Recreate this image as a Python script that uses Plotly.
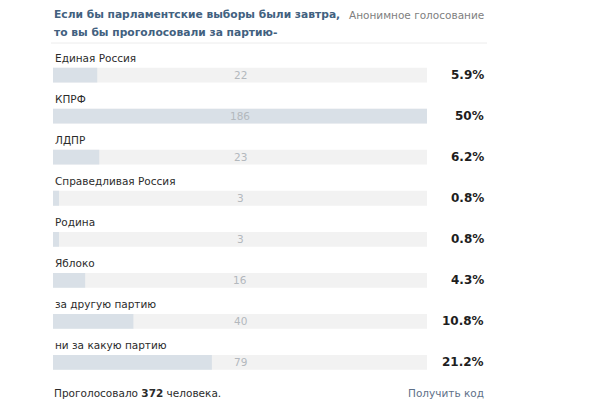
import plotly.graph_objects as go

# ---- data ----
parties = ["Единая Россия", "КПРФ", "ЛДПР", "Справедливая Россия", "Родина",
           "Яблоко", "за другую партию", "ни за какую партию"]
votes = [22, 186, 23, 3, 3, 16, 40, 79]
percent_labels = ["5.9%", "50%", "6.2%", "0.8%", "0.8%", "4.3%", "10.8%", "21.2%"]
total_votes = 372
title_lines = ["Если бы парламентские выборы были завтра,", "то вы бы проголосовали за партию-"]

# page body has an 8px margin; figure is sized so the whole page fits the window
OFF = 8
W, H = 604 - OFF, 405 - OFF
FONT = "DejaVu Sans"
max_v = max(votes)

def px(x):
    return (x - OFF) / W

def py(y):
    return 1 - (y - OFF) / H

fig = go.Figure()
# background track
fig.add_trace(go.Bar(
    y=parties, x=[max_v] * len(parties), orientation="h",
    marker=dict(color="#f2f2f2", line=dict(width=0)),
    width=0.36, hoverinfo="skip", showlegend=False))
# value bars
fig.add_trace(go.Bar(
    y=parties, x=votes, orientation="h",
    marker=dict(color="#d9e0e7", line=dict(width=0)),
    width=0.36, hoverinfo="skip", showlegend=False))

annotations = []
for p, v, pl in zip(parties, votes, percent_labels):
    annotations.append(dict(x=0, y=p, xref="x", yref="y", text=p, showarrow=False,
                            xanchor="left", yanchor="middle", yshift=17,
                            font=dict(family=FONT, size=10.5, color="#2b2b2b")))
    annotations.append(dict(x=max_v / 2, y=p, xref="x", yref="y", text=str(v), showarrow=False,
                            xanchor="center", yanchor="middle",
                            font=dict(family=FONT, size=10.5, color="#b3b8bd")))
    annotations.append(dict(x=px(486), y=p, xref="paper", yref="y", text="<b>%s</b>" % pl,
                            showarrow=False, xanchor="right", yanchor="middle",
                            font=dict(family=FONT, size=12, color="#1e1e1e")))

annotations.append(dict(x=px(52), y=py(15), xref="paper", yref="paper",
                        text="<b>%s</b>" % title_lines[0], showarrow=False,
                        xanchor="left", yanchor="middle",
                        font=dict(family=FONT, size=10.7, color="#42617f")))
annotations.append(dict(x=px(52), y=py(33), xref="paper", yref="paper",
                        text="<b>%s</b>" % title_lines[1], showarrow=False,
                        xanchor="left", yanchor="middle",
                        font=dict(family=FONT, size=10.7, color="#42617f")))
annotations.append(dict(x=px(486), y=py(15), xref="paper", yref="paper",
                        text="Анонимное голосование", showarrow=False,
                        xanchor="right", yanchor="middle",
                        font=dict(family=FONT, size=10.5, color="#808080")))
annotations.append(dict(x=px(52), y=py(393), xref="paper", yref="paper",
                        text="Проголосовало <b>%d</b> человека." % total_votes, showarrow=False,
                        xanchor="left", yanchor="middle",
                        font=dict(family=FONT, size=10.5, color="#2b2b2b")))
annotations.append(dict(x=px(486), y=py(393), xref="paper", yref="paper",
                        text="Получить код", showarrow=False,
                        xanchor="right", yanchor="middle",
                        font=dict(family=FONT, size=10.5, color="#5e7088")))

fig.update_layout(
    width=W, height=H, margin=dict(l=0, r=0, t=0, b=0),
    paper_bgcolor="white", plot_bgcolor="white",
    barmode="overlay", showlegend=False,
    xaxis=dict(domain=[px(53), px(427)], range=[0, max_v], visible=False, fixedrange=True),
    yaxis=dict(domain=[py(387.3), py(54.7)], autorange="reversed", visible=False,
               categoryorder="array", categoryarray=parties, fixedrange=True),
    annotations=annotations,
    shapes=[dict(type="line", xref="paper", yref="paper", x0=px(51), x1=px(487),
                 y0=py(43), y1=py(43), line=dict(color="#ececec", width=1))],
)

fig.write_html("out.html", config={"displayModeBar": False, "staticPlot": True})
